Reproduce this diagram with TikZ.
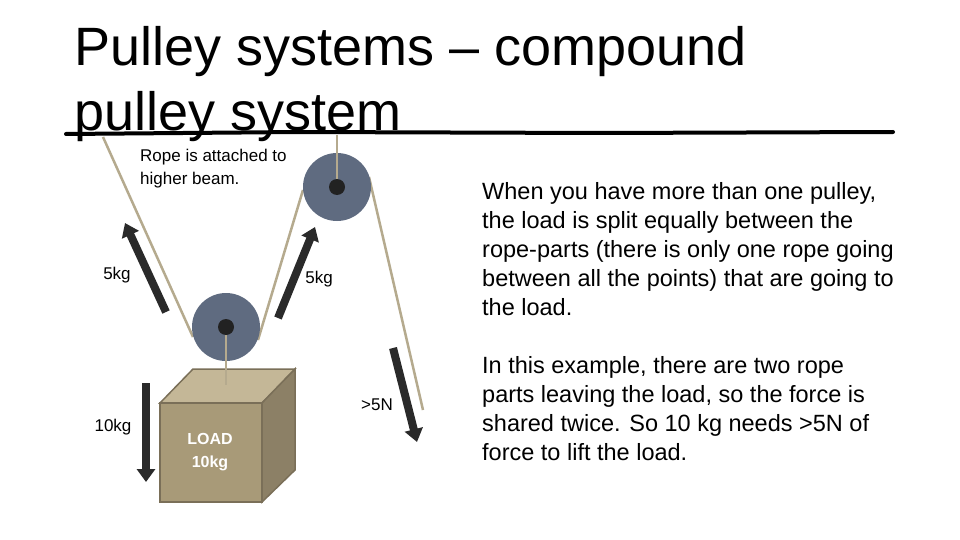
\documentclass[tikz,border=0pt]{standalone}
\usepackage{fontspec}
\setmainfont{Liberation Sans}
\usetikzlibrary{arrows.meta}
\definecolor{rope}{HTML}{B5AA8E}
\definecolor{pul}{HTML}{5F6B80}
\definecolor{hub}{HTML}{222222}
\definecolor{bfront}{HTML}{A89A78}
\definecolor{btop}{HTML}{C4B797}
\definecolor{bside}{HTML}{8C8066}
\definecolor{bedge}{HTML}{7A6F58}
\definecolor{arr}{HTML}{2A2A2A}
\begin{document}
\begin{tikzpicture}[x=1pt,y=-1pt,
  ropeline/.style={draw=rope,line width=2.5pt},
  force/.style={draw=arr,line width=8pt,-{Triangle[width=18pt,length=13pt]}},
  lbl/.style={font=\fontsize{17}{17}\selectfont,inner sep=0pt},
  para/.style={font=\fontsize{23.5}{29}\selectfont,align=left,anchor=north west,inner sep=0pt}]
\useasboundingbox (0,0) rectangle (960,540);
\fill[white] (0,0) rectangle (960,540);
% title
\node[anchor=west,inner sep=0pt,font=\fontsize{54}{65}\selectfont,align=left] (title) at (74,84) {Pulley systems -- compound\\pulley system};
\draw[line width=4pt,line cap=round] (66,134) -- (300,132) -- (600,133) -- (893,132);
% box
\coordinate (b1) at (160,403); \coordinate (b2) at (262,403);
\coordinate (b3) at (262,502); \coordinate (b4) at (160,502);
\coordinate (t1) at (193,369); \coordinate (t2) at (295,369); \coordinate (t3) at (295,470);
\fill[btop,draw=bedge,line width=1.5pt] (b1)--(t1)--(t2)--(b2)--cycle;
\fill[bside,draw=bedge,line width=1.5pt] (b2)--(t2)--(t3)--(b3)--cycle;
\fill[bfront,draw=bedge,line width=1.5pt] (b1)--(b2)--(b3)--(b4)--cycle;
\node[font=\bfseries\fontsize{16}{23}\selectfont,text=white,align=center] (load) at (210,452) {LOAD\\10kg};
% ropes
\coordinate (anchorL) at (103,137);
\coordinate (anchorT) at (337,135);
\coordinate (loose) at (423,410);
\coordinate (hook) at (226,385);
\draw[ropeline] (anchorL) -- (193,337);
\draw[ropeline] (258,340) -- (303,190);
\draw[ropeline] (369,177) -- (loose);
% pulleys
\node[circle,fill=pul,minimum size=68pt,inner sep=0pt] (pt) at (337,187) {};
\node[circle,fill=pul,minimum size=68pt,inner sep=0pt] (pb) at (226,327) {};
\draw[ropeline] (anchorT) -- (pt.center);
\draw[ropeline] (pb.center) -- (hook);
\node[circle,fill=hub,minimum size=16pt,inner sep=0pt] (ht) at (pt.center) {};
\node[circle,fill=hub,minimum size=16pt,inner sep=0pt] (hb) at (pb.center) {};
% force arrows
\coordinate (a1s) at (166,312); \coordinate (a1e) at (125,223);
\coordinate (a2s) at (278,318); \coordinate (a2e) at (315,227);
\coordinate (a3s) at (393,348); \coordinate (a3e) at (417,442);
\coordinate (a4s) at (146,383); \coordinate (a4e) at (146,482);
\draw[force] (a1s) -- (a1e);
\draw[force] (a2s) -- (a2e);
\draw[force] (a3s) -- (a3e);
\draw[force] (a4s) -- (a4e);
% labels
\node[lbl] (l1) at (117,275) {5kg};
\node[lbl] (l2) at (319,279) {5kg};
\node[lbl] (l3) at (113,427) {10kg};
\node[lbl] (l4) at (377,405) {>5N};
\node[lbl,anchor=west,align=left,font=\fontsize{17}{23}\selectfont] (note) at (140,169) {Rope is attached to\\higher beam.};
% paragraphs
\node[para] (p1) at (482,182) {When you have more than one pulley,\\the load is split equally between the\\rope-parts (there is only one rope going\\between all the points) that are going to\\the load.};
\node[para] (p2) at (482,356) {In this example, there are two rope\\parts leaving the load, so the force is\\shared twice. So 10 kg needs >5N of\\force to lift the load.};
\end{tikzpicture}
\end{document}
